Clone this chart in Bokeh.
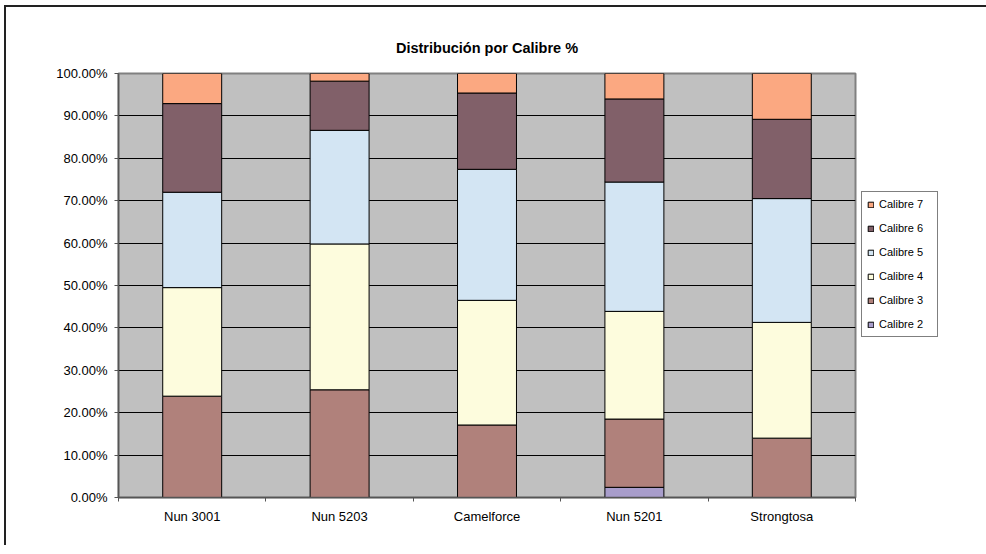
from bokeh.plotting import figure
from bokeh.models import (ColumnDataSource, FixedTicker, NumeralTickFormatter,
                          Legend, LegendItem, Title, Range1d)
from bokeh.embed import file_html
from bokeh.resources import INLINE

# ---- data (percent of each variety) ----
categories = ["Nun 3001", "Nun 5203", "Camelforce", "Nun 5201", "Strongtosa"]
series_names = ["Calibre 2", "Calibre 3", "Calibre 4", "Calibre 5", "Calibre 6", "Calibre 7"]
calibre_2 = [0.0, 0.0, 0.0, 2.4, 0.0]
calibre_3 = [23.9, 25.4, 17.1, 16.1, 14.0]
calibre_4 = [25.6, 34.4, 29.4, 25.4, 27.3]
calibre_5 = [22.5, 26.8, 30.9, 30.5, 29.2]
calibre_6 = [20.9, 11.6, 18.0, 19.6, 18.7]
calibre_7 = [7.1, 1.8, 4.6, 6.0, 10.8]
y_tick_values = [0, 10, 20, 30, 40, 50, 60, 70, 80, 90, 100]
title_text = "Distribución por Calibre %"

colors = ["#A89DCB", "#B0817B", "#FDFCDD", "#D3E5F3", "#816069", "#FBA881"]
FONT = "Liberation Sans"

series = [calibre_2, calibre_3, calibre_4, calibre_5, calibre_6, calibre_7]
n = len(categories)
data = {"x": [i + 0.5 for i in range(n)]}
for name, vals in zip(series_names, series):
    data[name] = [v / 100.0 for v in vals]
src = ColumnDataSource(data)

p = figure(frame_width=737, frame_height=424,
           output_backend="svg", toolbar_location=None,
           x_range=Range1d(0, n), y_range=Range1d(0, 1),
           min_border_left=112, min_border_top=66, min_border_right=118,
           min_border_bottom=48, background_fill_color="#C0C0C0",
           border_fill_color="white", title=None)
# chart-area frame line (only its top and left edges are visible in the window)
p.styles = {"margin-left": "4px", "margin-top": "5px", "margin-right": "-8px",
            "border-style": "solid none none solid",
            "border-width": "2px 0px 0px 2px",
            "border-color": "#222222"}

p.outline_line_color = "#808080"
p.outline_line_width = 2

renderers = p.vbar_stack(series_names, x="x", width=0.4, source=src,
                         fill_color=colors, line_color="black", line_width=1)

# x axis: labels at bar centres, ticks between categories
p.xaxis.ticker = FixedTicker(ticks=[i + 0.5 for i in range(n)],
                             minor_ticks=list(range(n + 1)))
p.xaxis.major_label_overrides = {i + 0.5: c for i, c in enumerate(categories)}
p.xaxis.major_tick_out = 0
p.xaxis.major_tick_in = 0
p.xaxis.minor_tick_out = 4
p.xaxis.minor_tick_in = 0
p.xaxis.minor_tick_line_color = "#555555"
p.xaxis.major_label_standoff = 7

p.yaxis.ticker = FixedTicker(ticks=[v / 100.0 for v in y_tick_values])
p.yaxis.formatter = NumeralTickFormatter(format="0.00%")
p.yaxis.major_tick_out = 4
p.yaxis.major_tick_in = 0
p.yaxis.minor_tick_out = 0
p.yaxis.minor_tick_in = 0
p.yaxis.major_label_standoff = 7

for ax in (p.xaxis, p.yaxis):
    ax.axis_line_color = "#555555"
    ax.axis_line_width = 1.5
    ax.major_tick_line_color = "#555555"
    ax.major_label_text_font = FONT
    ax.major_label_text_font_size = "13px"
    ax.major_label_text_color = "black"

p.xgrid.grid_line_color = None
p.ygrid.grid_line_color = "black"
p.ygrid.grid_line_width = 1

# title
p.add_layout(Title(text=title_text, align="center", text_font=FONT,
                   text_font_size="14.5px", text_font_style="bold",
                   text_color="black", standoff=36), "above")

# legend (reversed order, right of the frame)
items = [LegendItem(label=name, renderers=[r])
         for name, r in zip(series_names, renderers)][::-1]
legend = Legend(items=items, location=(6, 160), orientation="vertical",
                glyph_width=7, glyph_height=7, label_standoff=5,
                label_width=53, label_height=14, spacing=10, padding=5,
                margin=0, border_line_color="black", border_line_width=1,
                background_fill_color="white", background_fill_alpha=1,
                label_text_font=FONT, label_text_font_size="11px",
                label_text_color="black")
p.add_layout(legend, "right")

open("out.html", "w").write(file_html(p, INLINE))
